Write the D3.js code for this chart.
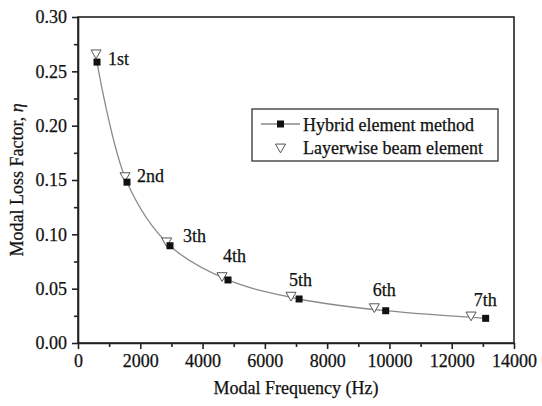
<!DOCTYPE html>
<html>
<head>
<meta charset="utf-8">
<script src="https://cdn.jsdelivr.net/npm/d3@7"></script>
<style>
  body { margin: 0; background: #fff; }
  svg text { font-family: "Liberation Serif", "Times New Roman", serif; fill: #111; stroke: #111; stroke-width: 0.25px; }
  .axis path, .axis line { stroke: #222; stroke-width: 1.6; }
  .axis text { font-size: 18px; }
</style>
</head>
<body>
<svg id="chart" width="542" height="406"></svg>
<script>
// mode order and labels
const modes = ['1st', '2nd', '3th', '4th', '5th', '6th', '7th'];

// hybrid element method (squares, with line)
const hybridFreq = [610, 1573, 2954, 4817, 7100, 9880, 13090];
const hybridLoss = [0.2585, 0.148, 0.0895, 0.058, 0.0405, 0.0297, 0.0227];

// layerwise beam element (open triangles)
const layerFreq = [580, 1510, 2848, 4625, 6840, 9515, 12620];
const layerLoss = [0.267, 0.154, 0.094, 0.062, 0.044, 0.0334, 0.0258];

const xTicks = [0, 2000, 4000, 6000, 8000, 10000, 12000, 14000];
const yTicks = [0.00, 0.05, 0.10, 0.15, 0.20, 0.25, 0.30];

const width = 542, height = 406;
const margin = {top: 17, right: 28, bottom: 63, left: 78};

const svg = d3.select('#chart');

const x = d3.scaleLinear().domain([0, 14000]).range([margin.left, width - margin.right]);
const y = d3.scaleLinear().domain([0, 0.30]).range([height - margin.bottom, margin.top]);

const hybrid = hybridFreq.map((f, i) => ({f: f, v: hybridLoss[i], name: modes[i]}));
const layer = layerFreq.map((f, i) => ({f: f, v: layerLoss[i]}));

// minor ticks first
svg.append('g')
	.attr('class', 'axis')
	.attr('transform', `translate(0,${y(0)})`)
	.call(d3.axisBottom(x).tickValues(d3.range(1000, 14000, 2000)).tickSize(4).tickFormat(''))
	.call(g => g.select('.domain').remove());

svg.append('g')
	.attr('class', 'axis')
	.attr('transform', `translate(${x(0)},0)`)
	.call(d3.axisLeft(y).tickValues(d3.range(0.025, 0.3, 0.05)).tickSize(4).tickFormat(''))
	.call(g => g.select('.domain').remove());

// major ticks
svg.append('g')
	.attr('class', 'axis')
	.attr('transform', `translate(0,${y(0)})`)
	.call(d3.axisBottom(x).tickValues(xTicks).tickSize(6).tickSizeOuter(0).tickPadding(5).tickFormat(d3.format('d')));

svg.append('g')
	.attr('class', 'axis')
	.attr('transform', `translate(${x(0)},0)`)
	.call(d3.axisLeft(y).tickValues(yTicks).tickSize(6).tickSizeOuter(0).tickPadding(5).tickFormat(d3.format('.2f')));

// frame
svg.append('rect')
	.attr('x', x(0))
	.attr('y', y(0.30))
	.attr('width', x(14000) - x(0))
	.attr('height', y(0) - y(0.30))
	.attr('fill', 'none')
	.attr('stroke', '#222')
	.attr('stroke-width', 1.6);

// axis titles
svg.append('text')
	.attr('x', (x(0) + x(14000)) / 2)
	.attr('y', 394)
	.attr('text-anchor', 'middle')
	.style('font-size', '18px')
	.text('Modal Frequency (Hz)');

const yTitle = svg.append('text')
	.attr('transform', `translate(23,${(y(0) + y(0.30)) / 2}) rotate(-90)`)
	.attr('text-anchor', 'middle')
	.style('font-size', '18px');
yTitle.append('tspan').text('Modal Loss Factor, ');
yTitle.append('tspan').style('font-style', 'italic').text('η');

// hybrid line
const line = d3.line()
	.x(d => x(d.f))
	.y(d => y(d.v))
	.curve(d3.curveCatmullRom.alpha(0.5));

svg.append('path')
	.datum(hybrid)
	.attr('d', line)
	.attr('fill', 'none')
	.attr('stroke', '#8a8a8a')
	.attr('stroke-width', 1.3);

const tri = d3.symbol().type(d3.symbolTriangle).size(44);

// layerwise triangles
svg.append('g')
	.selectAll('path')
	.data(layer)
	.join('path')
	.attr('d', tri)
	.attr('transform', d => `translate(${x(d.f)},${y(d.v)}) rotate(180)`)
	.attr('fill', '#fff')
	.attr('stroke', '#555')
	.attr('stroke-width', 1);

// hybrid squares
svg.append('g')
	.selectAll('rect')
	.data(hybrid)
	.join('rect')
	.attr('x', d => x(d.f) - 3.5)
	.attr('y', d => y(d.v) - 3.5)
	.attr('width', 7)
	.attr('height', 7)
	.attr('fill', '#111');

// mode labels, offset from the square markers
const labelOffset = [[11, 3], [10, 0], [13, -4], [-5, -18], [-10, -13], [-13, -15], [-12, -12]];

svg.append('g')
	.selectAll('text')
	.data(hybrid)
	.join('text')
	.attr('x', (d, i) => x(d.f) + labelOffset[i][0])
	.attr('y', (d, i) => y(d.v) + labelOffset[i][1])
	.style('font-size', '18px')
	.text(d => d.name);

// legend
const legend = svg.append('g').attr('transform', 'translate(252,109)');

legend.append('rect')
	.attr('width', 246)
	.attr('height', 52)
	.attr('fill', '#fff')
	.attr('stroke', '#333')
	.attr('stroke-width', 1.3);

legend.append('line')
	.attr('x1', 9).attr('x2', 48)
	.attr('y1', 15).attr('y2', 15)
	.attr('stroke', '#8a8a8a')
	.attr('stroke-width', 1.3);

legend.append('rect')
	.attr('x', 25).attr('y', 11.5)
	.attr('width', 7).attr('height', 7)
	.attr('fill', '#111');

legend.append('path')
	.attr('d', tri)
	.attr('transform', 'translate(28.5,38) rotate(180)')
	.attr('fill', '#fff')
	.attr('stroke', '#555');

legend.append('text')
	.attr('x', 51).attr('y', 22)
	.style('font-size', '18px')
	.text('Hybrid element method');

legend.append('text')
	.attr('x', 51).attr('y', 45)
	.style('font-size', '18px')
	.text('Layerwise beam element');
</script>
</body>
</html>
